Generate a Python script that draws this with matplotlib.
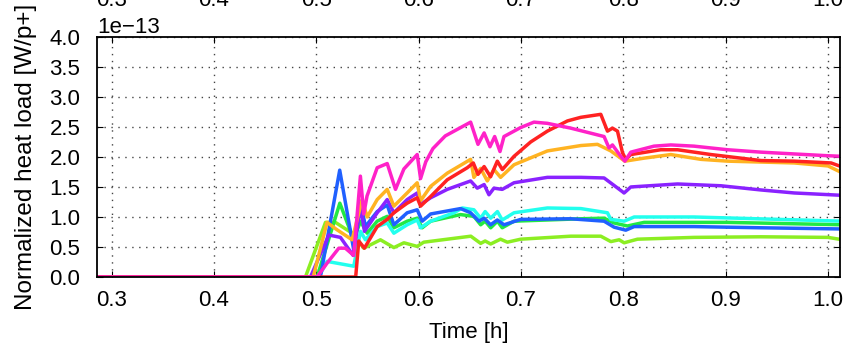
import numpy as np
import matplotlib.pyplot as plt

plt.rcParams['font.family'] = ['Liberation Sans', 'DejaVu Sans']
plt.rcParams['font.size'] = 16

# heat load per bunch crossing, in units of 1e-13 W/p+
t_lime = [0.28, 0.4894, 0.509, 0.5187, 0.536, 0.5464, 0.5627, 0.5758, 0.5856, 0.5986, 0.605, 0.651,
          0.6606, 0.665, 0.6704, 0.68, 0.6867, 0.6997, 0.7486, 0.778, 0.7878, 0.7959, 0.8008, 0.8138,
          0.869, 0.9345, 1.0, 1.0144]
q_lime = [0, 0, 0.91, 0.91, 0.72, 0.48, 0.62, 0.49, 0.57, 0.51, 0.58, 0.68,
          0.56, 0.60, 0.55, 0.63, 0.58, 0.63, 0.68, 0.68, 0.59, 0.62, 0.57, 0.63,
          0.66, 0.67, 0.66, 0.62]

t_green = [0.28, 0.5008, 0.523, 0.5366, 0.5432, 0.5497, 0.5595, 0.5693, 0.5758, 0.5888, 0.5986, 0.6035,
           0.6117, 0.641, 0.654, 0.6606, 0.665, 0.6704, 0.677, 0.6817, 0.6932, 0.7585, 0.7812, 0.791,
           0.804, 0.8203, 0.9019, 1.0144]
q_green = [0, 0, 1.23, 0.62, 0.93, 0.73, 0.93, 1.01, 0.82, 0.93, 0.98, 0.82,
           0.93, 1.04, 1.01, 0.87, 0.93, 0.82, 0.93, 0.82, 0.93, 0.97, 0.98, 0.90,
           0.85, 0.91, 0.91, 0.87]

t_cyan = [0.28, 0.5024, 0.5105, 0.5366, 0.5432, 0.548, 0.5595, 0.5693, 0.5758, 0.5888, 0.5986, 0.6019,
          0.6117, 0.6345, 0.6427, 0.654, 0.6606, 0.665, 0.6704, 0.677, 0.6817, 0.6932, 0.7258, 0.7585,
          0.7845, 0.7877, 0.8008, 0.8106, 0.869, 1.0144]
q_cyan = [0, 0, 0.26, 0.18, 0.76, 0.62, 0.84, 0.90, 0.73, 0.87, 0.95, 0.82,
          0.93, 1.07, 1.15, 1.12, 0.98, 1.09, 0.98, 1.09, 0.95, 1.07, 1.15, 1.14,
          1.07, 0.96, 0.93, 1.0, 1.0, 0.93]

t_blue = [0.28, 0.504, 0.5229, 0.5366, 0.5432, 0.548, 0.5595, 0.5693, 0.5758, 0.5888, 0.5986, 0.6035,
          0.6117, 0.641, 0.6508, 0.659, 0.664, 0.6703, 0.6769, 0.6834, 0.6997, 0.7486, 0.7812, 0.791,
          0.8024, 0.8106, 0.869, 0.9345, 1.0144]
q_blue = [0, 0, 1.78, 0.45, 1.26, 0.84, 1.09, 1.20, 0.87, 1.07, 1.12, 0.93,
          1.05, 1.14, 1.07, 0.93, 0.98, 0.87, 0.95, 0.87, 0.96, 0.97, 0.93, 0.83,
          0.78, 0.84, 0.84, 0.82, 0.80]

t_violet = [0.28, 0.4943, 0.5122, 0.5236, 0.536, 0.5432, 0.5471, 0.5595, 0.5693, 0.5758, 0.5888, 0.5986,
            0.6019, 0.6117, 0.628, 0.6508, 0.6573, 0.664, 0.6687, 0.6736, 0.6817, 0.6932, 0.7258, 0.7585,
            0.7812, 0.8008, 0.8073, 0.853, 0.8954, 0.9345, 0.967, 1.0144]
q_violet = [0, 0, 0.70, 0.66, 0.36, 1.18, 0.76, 1.07, 1.29, 1.07, 1.29, 1.40,
            1.21, 1.32, 1.46, 1.60, 1.48, 1.54, 1.37, 1.48, 1.46, 1.57, 1.66, 1.66,
            1.65, 1.40, 1.50, 1.55, 1.52, 1.45, 1.40, 1.36]

t_orange = [0.28, 0.497, 0.5105, 0.52, 0.535, 0.5448, 0.5497, 0.5595, 0.5693, 0.5758, 0.5888, 0.5986,
            0.6019, 0.6117, 0.628, 0.6508, 0.654, 0.6606, 0.6671, 0.6736, 0.6801, 0.6932, 0.7258, 0.7585,
            0.7747, 0.7878, 0.8015, 0.8203, 0.8464, 0.8758, 0.9019, 0.967, 1.0, 1.0144]
q_orange = [0, 0, 0.91, 0.79, 0.62, 1.29, 1.0, 1.29, 1.46, 1.18, 1.40, 1.57,
            1.27, 1.51, 1.73, 1.96, 1.66, 1.81, 1.60, 1.79, 1.66, 1.87, 2.10, 2.19,
            2.21, 2.10, 1.93, 1.98, 2.04, 1.96, 1.93, 1.90, 1.85, 1.73]

t_red = [0.28, 0.5385, 0.5415, 0.547, 0.5595, 0.5693, 0.5758, 0.5888, 0.5986, 0.6019, 0.6117, 0.628,
         0.6475, 0.6534, 0.658, 0.664, 0.6703, 0.6769, 0.6818, 0.6932, 0.7095, 0.7258, 0.7454, 0.7584,
         0.778, 0.7845, 0.7894, 0.7943, 0.7992, 0.8024, 0.8073, 0.8366, 0.853, 0.8856, 0.9345, 0.967,
         1.003, 1.0144]
q_red = [0, 0, 0.60, 0.48, 0.84, 0.96, 1.07, 1.23, 1.32, 1.18, 1.34, 1.62,
         1.82, 1.90, 1.71, 1.84, 1.67, 1.93, 1.79, 2.01, 2.25, 2.43, 2.60, 2.66,
         2.71, 2.43, 2.48, 2.43, 2.07, 1.96, 2.04, 2.12, 2.12, 2.04, 1.94, 1.93,
         1.90, 1.83]

t_magenta = [0.28, 0.5007, 0.5105, 0.522, 0.5284, 0.5366, 0.5431, 0.5464, 0.5496, 0.5595, 0.5693, 0.5774,
             0.5856, 0.5986, 0.6019, 0.607, 0.614, 0.626, 0.6508, 0.658, 0.664, 0.6697, 0.6743, 0.6795,
             0.6834, 0.6997, 0.7127, 0.7258, 0.7486, 0.7812, 0.786, 0.7894, 0.7975, 0.8015, 0.8073, 0.83,
             0.8464, 0.869, 0.9019, 0.9345, 0.967, 1.0, 1.0144]
q_magenta = [0, 0, 0.23, 0.48, 0.48, 0.36, 1.68, 1.05, 1.35, 1.82, 1.89, 1.46,
             1.80, 2.04, 1.64, 1.92, 2.14, 2.35, 2.58, 2.21, 2.40, 2.17, 2.34, 2.09,
             2.34, 2.49, 2.58, 2.56, 2.48, 2.34, 2.15, 2.20, 2.01, 1.93, 2.08, 2.18,
             2.20, 2.18, 2.12, 2.08, 2.05, 2.02, 2.01]

series = [
    (t_lime, q_lime, '#8cee22'),
    (t_green, q_green, '#22e844'),
    (t_cyan, q_cyan, '#22ffee'),
    (t_blue, q_blue, '#2060ff'),
    (t_violet, q_violet, '#8a22ff'),
    (t_orange, q_orange, '#ffb322'),
    (t_red, q_red, '#ff2222'),
    (t_magenta, q_magenta, '#ff22c8'),
]

fig = plt.figure(figsize=(8.44, 3.48), dpi=100)
ax = fig.add_axes([0.115, 0.204, 0.880, 0.690])

for t, q, c in series:
    ax.plot(t, np.array(q) * 1e-13, color=c, lw=2.5)

ax.set_xlim(0.2858, 1.0115)
ax.set_ylim(0, 4e-13)
ax.set_xticks(np.arange(0.3, 1.01, 0.1))
ax.set_yticks(np.arange(0, 4.01e-13, 0.5e-13))
ax.ticklabel_format(axis='y', style='sci', scilimits=(0, 0))
ax.yaxis.get_offset_text().set_y(1.02)
ax.grid(True, color='#444444', lw=1.0, ls=(0, (1, 4)))
ax.tick_params(direction='in', top=True, right=True, length=4)
ax.tick_params(axis='y', pad=12)
ax.tick_params(axis='x', pad=9)
for s in ax.spines.values():
    s.set_linewidth(1.3)
ax.set_xlabel('Time [h]', labelpad=8)
ax.set_ylabel('Normalized heat load [W/p+]', fontsize=17.5, labelpad=9)

# panel above shares the time axis, only its tick labels reach into view
ax_top = fig.add_axes([0.115, 1.066, 0.880, 0.5])
ax_top.set_xlim(ax.get_xlim())
ax_top.set_xticks(np.arange(0.3, 1.01, 0.1))
ax_top.set_yticks([])
ax_top.tick_params(direction='in', pad=9)

fig.savefig('out.png', dpi=100)
